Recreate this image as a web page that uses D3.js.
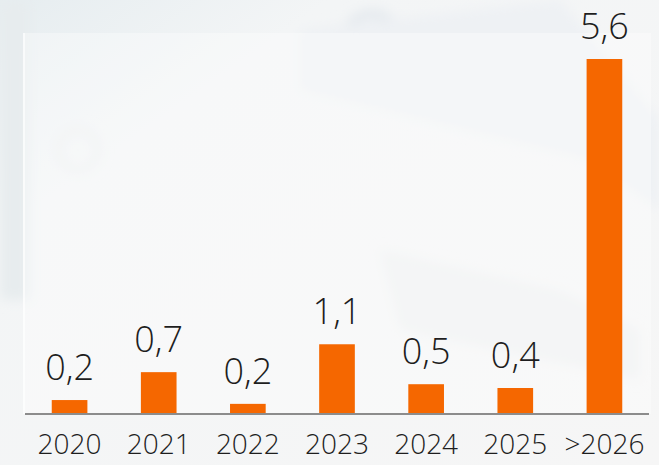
<!DOCTYPE html>
<html lang="en">
<head>
<meta charset="utf-8">
<title>Bars</title>
<script src="https://d3js.org/d3.v7.min.js"></script>
<style>
  html, body { margin: 0; padding: 0; background: #f4f5f6; }
  #chart { width: 659px; height: 465px; }
  svg text { font-family: "Open Sans", "Liberation Sans", sans-serif; fill: #1e1e1e; }
</style>
</head>
<body>
<div id="chart"></div>
<script>
// data
var years = ["2020", "2021", "2022", "2023", "2024", "2025", ">2026"];
var amounts = [0.22, 0.66, 0.16, 1.1, 0.47, 0.41, 5.6];

var W = 659, H = 465;
var marg = {top: 59, right: 10, bottom: 51, left: 25};
var axisY = H - marg.bottom;   // baseline of the bars

var svg = d3.select("#chart").append("svg")
  .attr("width", W)
  .attr("height", H);

// faded photo-ish background
var defs = svg.append("defs");
var bg = defs.append("linearGradient").attr("id", "bg")
  .attr("x1", 0).attr("y1", 0).attr("x2", 1).attr("y2", 1);
bg.append("stop").attr("offset", "0%").attr("stop-color", "#e6edf0");
bg.append("stop").attr("offset", "25%").attr("stop-color", "#f3f5f6");
bg.append("stop").attr("offset", "100%").attr("stop-color", "#f6f6f6");
var blur = defs.append("filter").attr("id", "soft");
blur.append("feGaussianBlur").attr("stdDeviation", 6);

svg.append("rect").attr("width", W).attr("height", H).attr("fill", "url(#bg)");

var deco = svg.append("g").attr("filter", "url(#soft)").attr("fill", "none");
deco.append("circle").attr("cx", 372).attr("cy", 42).attr("r", 28)
  .attr("stroke", "#e3e8ed").attr("stroke-width", 9);
deco.append("path").attr("d", "M300,30 L560,0 L659,120 L659,210 L590,160 L300,90 Z")
  .attr("fill", "#eef1f4");
deco.append("circle").attr("cx", 78).attr("cy", 150).attr("r", 20)
  .attr("stroke", "#eaecee").attr("stroke-width", 6);
deco.append("path").attr("d", "M380,250 L560,290 L640,330 L640,380 L400,330 Z")
  .attr("fill", "#eef0f1");
deco.append("path").attr("d", "M0,0 L30,0 L30,300 L0,300 Z")
  .attr("fill", "#e7ecee");

svg.append("rect")
  .attr("x", marg.left).attr("y", 33)
  .attr("width", W - marg.left - 8).attr("height", axisY - 33)
  .attr("fill", "#ffffff").attr("opacity", 0.35);
svg.append("line")
  .attr("x1", marg.left - 1).attr("x2", marg.left - 1)
  .attr("y1", 33).attr("y2", axisY)
  .attr("stroke", "#ffffff").attr("stroke-width", 1.5);

// scales
var x = d3.scaleBand()
  .domain(years)
  .range([marg.left, 649])
  .paddingInner(0.6)
  .paddingOuter(0.3);

var y = d3.scaleLinear()
  .domain([0, 5.6])
  .range([axisY, marg.top]);

var fmt = function(v) { return d3.format(".1f")(v).replace(".", ","); };

// bars
svg.selectAll(".bar")
  .data(amounts)
  .enter()
  .append("rect")
    .attr("class", "bar")
    .attr("x", function(d, i) { return x(years[i]); })
    .attr("y", function(d) { return y(d); })
    .attr("width", x.bandwidth())
    .attr("height", function(d) { return axisY - y(d); })
    .attr("fill", "#f56700");

// value labels
svg.selectAll(".val")
  .data(amounts)
  .enter()
  .append("text")
    .attr("class", "val")
    .attr("x", function(d, i) { return x(years[i]) + x.bandwidth() / 2; })
    .attr("y", function(d) { return y(d) - 20; })
    .attr("text-anchor", "middle")
    .style("font-size", "36px")
    .style("font-weight", 300)
    .text(fmt);

// x axis
var xAxis = svg.append("g")
  .attr("transform", "translate(0," + axisY + ")")
  .call(d3.axisBottom(x).tickSize(0).tickPadding(20));
xAxis.select(".domain")
  .attr("d", "M" + marg.left + ",0H649")
  .attr("stroke", "#8c8c8c")
  .attr("stroke-width", 2);
xAxis.selectAll("text")
  .attr("dy", "0.71em")
  .style("font-size", "28px")
  .style("font-weight", 300)
  .style("font-family", "'Open Sans', 'Liberation Sans', sans-serif")
  .attr("fill", "#1e1e1e");
</script>
</body>
</html>
